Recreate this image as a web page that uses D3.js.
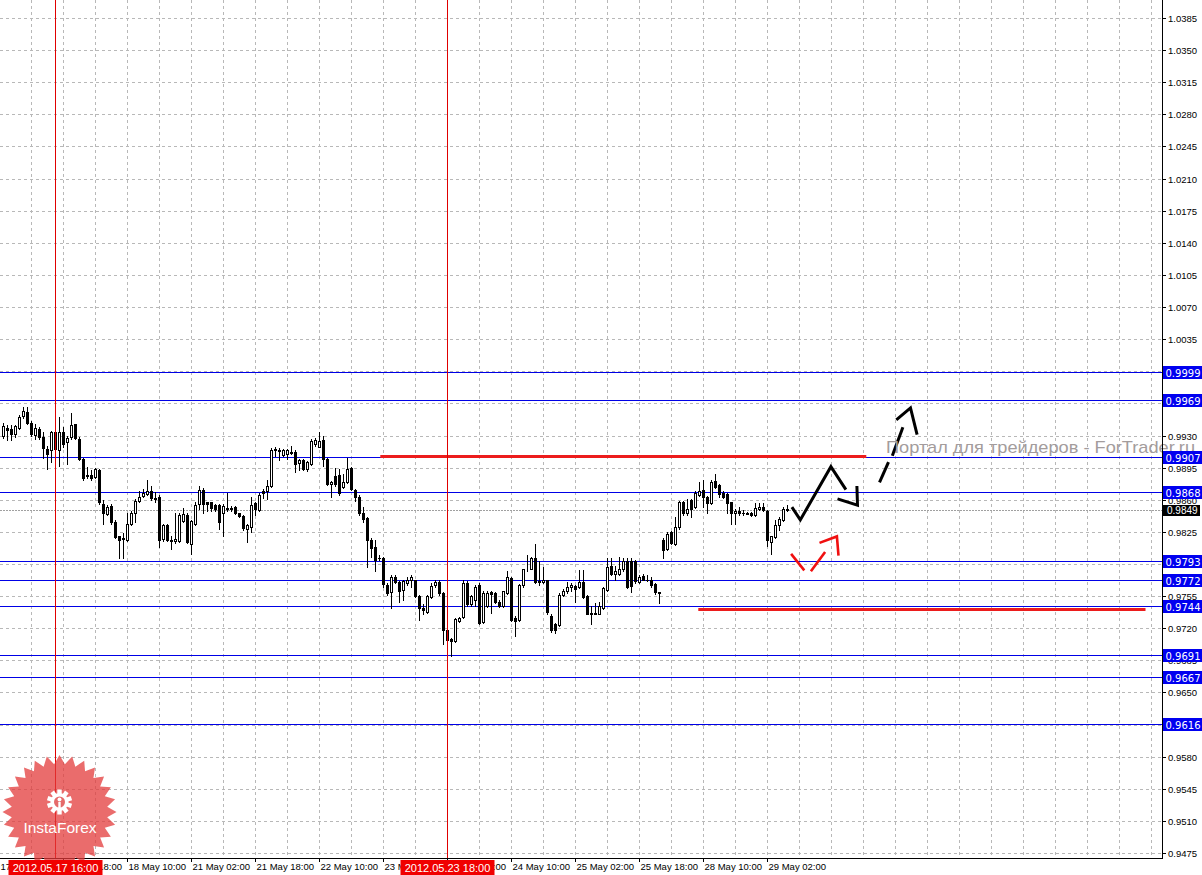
<!DOCTYPE html>
<html><head><meta charset="utf-8">
<script src="https://cdn.jsdelivr.net/npm/d3@7"></script>
<style>html,body{margin:0;padding:0;background:#fff;overflow:hidden}</style>
</head><body><svg id="c" width="1202" height="875"></svg>
<script>
// ---- data (H1 candles, bar index 1..197) ----
const open=[0.9929,0.9938,0.9937,0.9932,0.9938,0.9951,0.9956,0.9944,0.9931,0.9937,
0.9928,0.9915,0.9914,0.9915,0.9914,0.9934,0.9923,0.9928,0.9942,0.9926,
0.9904,0.9887,0.9887,0.9885,0.9892,0.9855,0.9844,0.9853,0.9836,0.9820,
0.9818,0.9816,0.9834,0.9845,0.9859,0.9864,0.9866,0.9869,0.9862,0.9863,
0.9817,0.9832,0.9816,0.9815,0.9815,0.9837,0.9843,0.9812,0.9834,0.9855,
0.9871,0.9857,0.9857,0.9854,0.9854,0.9845,0.9851,0.9850,0.9852,0.9845,
0.9842,0.9828,0.9830,0.9856,0.9849,0.9869,0.9869,0.9875,0.9914,0.9914,
0.9909,0.9910,0.9912,0.9912,0.9900,0.9903,0.9894,0.9899,0.9921,0.9918,
0.9925,0.9904,0.9877,0.9886,0.9887,0.9874,0.9879,0.9895,0.9871,0.9863,
0.9845,0.9840,0.9816,0.9809,0.9797,0.9796,0.9767,0.9759,0.9776,0.9770,
0.9762,0.9769,0.9773,0.9772,0.9755,0.9742,0.9738,0.9754,0.9767,0.9770,
0.9758,0.9718,0.9708,0.9706,0.9728,0.9732,0.9769,0.9746,0.9751,0.9767,
0.9727,0.9744,0.9759,0.9758,0.9749,0.9744,0.9758,0.9775,0.9731,0.9729,
0.9767,0.9784,0.9785,0.9796,0.9770,0.9770,0.9772,0.9733,0.9725,0.9723,
0.9756,0.9760,0.9765,0.9766,0.9765,0.9770,0.9755,0.9737,0.9736,0.9736,
0.9742,0.9762,0.9788,0.9779,0.9779,0.9784,0.9793,0.9793,0.9793,0.9770,
0.9777,0.9773,0.9773,0.9768,0.9759,0.9816,0.9806,0.9825,0.9812,0.9830,
0.9858,0.9845,0.9860,0.9852,0.9865,0.9871,0.9863,0.9856,0.9880,0.9876,
0.9867,0.9866,0.9858,0.9845,0.9848,0.9846,0.9845,0.9846,0.9843,0.9850,
0.9852,0.9848,0.9814,0.9819,0.9832,0.9838,0.9850];
const high=[0.9944,0.9941,0.9941,0.9941,0.9952,0.9961,0.9961,0.9946,0.9942,0.9939,
0.9934,0.9919,0.9935,0.9935,0.9950,0.9939,0.9929,0.9954,0.9943,0.9928,
0.9906,0.9896,0.9892,0.9895,0.9893,0.9860,0.9854,0.9855,0.9838,0.9821,
0.9824,0.9845,0.9848,0.9861,0.9870,0.9872,0.9882,0.9875,0.9868,0.9865,
0.9834,0.9834,0.9821,0.9845,0.9845,0.9851,0.9845,0.9838,0.9857,0.9875,
0.9873,0.9858,0.9858,0.9855,0.9855,0.9855,0.9867,0.9853,0.9853,0.9846,
0.9843,0.9834,0.9863,0.9858,0.9867,0.9872,0.9881,0.9916,0.9917,0.9916,
0.9915,0.9915,0.9919,0.9914,0.9904,0.9904,0.9902,0.9926,0.9927,0.9934,
0.9930,0.9906,0.9880,0.9895,0.9894,0.9888,0.9906,0.9896,0.9872,0.9865,
0.9852,0.9841,0.9818,0.9816,0.9800,0.9798,0.9769,0.9778,0.9778,0.9771,
0.9773,0.9776,0.9778,0.9773,0.9756,0.9746,0.9756,0.9769,0.9772,0.9773,
0.9759,0.9720,0.9709,0.9731,0.9732,0.9772,0.9771,0.9756,0.9767,0.9769,
0.9760,0.9760,0.9760,0.9759,0.9751,0.9761,0.9782,0.9776,0.9733,0.9768,
0.9785,0.9800,0.9798,0.9812,0.9793,0.9787,0.9773,0.9735,0.9726,0.9758,
0.9763,0.9770,0.9769,0.9767,0.9783,0.9783,0.9756,0.9744,0.9747,0.9748,
0.9765,0.9797,0.9797,0.9788,0.9798,0.9797,0.9797,0.9797,0.9794,0.9778,
0.9779,0.9778,0.9776,0.9769,0.9759,0.9818,0.9825,0.9826,0.9841,0.9859,
0.9859,0.9861,0.9861,0.9869,0.9879,0.9881,0.9864,0.9881,0.9888,0.9877,
0.9869,0.9867,0.9858,0.9850,0.9852,0.9849,0.9847,0.9847,0.9856,0.9856,
0.9856,0.9849,0.9821,0.9838,0.9841,0.9852,0.9854];
const low=[0.9927,0.9925,0.9925,0.9928,0.9937,0.9949,0.9943,0.9930,0.9926,0.9926,
0.9906,0.9894,0.9901,0.9897,0.9897,0.9917,0.9899,0.9926,0.9926,0.9903,
0.9882,0.9884,0.9882,0.9884,0.9855,0.9834,0.9843,0.9834,0.9818,0.9796,
0.9796,0.9815,0.9833,0.9836,0.9857,0.9863,0.9865,0.9860,0.9857,0.9808,
0.9815,0.9815,0.9806,0.9813,0.9814,0.9836,0.9813,0.9801,0.9833,0.9850,
0.9846,0.9848,0.9848,0.9848,0.9828,0.9820,0.9848,0.9848,0.9844,0.9841,
0.9827,0.9814,0.9825,0.9843,0.9848,0.9862,0.9861,0.9874,0.9908,0.9903,
0.9908,0.9904,0.9910,0.9890,0.9892,0.9892,0.9891,0.9898,0.9919,0.9917,
0.9897,0.9876,0.9863,0.9875,0.9865,0.9873,0.9878,0.9871,0.9859,0.9843,
0.9836,0.9787,0.9798,0.9782,0.9794,0.9765,0.9756,0.9742,0.9769,0.9748,
0.9751,0.9767,0.9765,0.9754,0.9729,0.9736,0.9737,0.9753,0.9765,0.9756,
0.9703,0.9706,0.9690,0.9705,0.9727,0.9731,0.9744,0.9744,0.9744,0.9725,
0.9726,0.9743,0.9737,0.9747,0.9743,0.9743,0.9757,0.9728,0.9711,0.9728,
0.9765,0.9782,0.9784,0.9769,0.9767,0.9769,0.9736,0.9716,0.9715,0.9722,
0.9755,0.9758,0.9760,0.9749,0.9764,0.9753,0.9735,0.9725,0.9735,0.9735,
0.9741,0.9761,0.9778,0.9773,0.9778,0.9782,0.9764,0.9759,0.9769,0.9769,
0.9772,0.9771,0.9765,0.9757,0.9747,0.9796,0.9805,0.9812,0.9811,0.9828,
0.9843,0.9843,0.9841,0.9851,0.9864,0.9852,0.9846,0.9855,0.9873,0.9863,
0.9862,0.9845,0.9834,0.9834,0.9843,0.9843,0.9844,0.9842,0.9842,0.9849,
0.9848,0.9810,0.9801,0.9818,0.9827,0.9837,0.9848];
const close=[0.9940,0.9936,0.9932,0.9940,0.9950,0.9957,0.9944,0.9932,0.9938,0.9928,
0.9916,0.9910,0.9934,0.9934,0.9934,0.9921,0.9927,0.9941,0.9927,0.9904,
0.9884,0.9886,0.9884,0.9893,0.9857,0.9845,0.9852,0.9836,0.9819,0.9816,
0.9817,0.9834,0.9845,0.9859,0.9863,0.9867,0.9870,0.9862,0.9861,0.9816,
0.9833,0.9816,0.9815,0.9817,0.9843,0.9844,0.9814,0.9837,0.9854,0.9871,
0.9855,0.9855,0.9851,0.9850,0.9836,0.9853,0.9850,0.9851,0.9845,0.9842,
0.9829,0.9832,0.9854,0.9850,0.9865,0.9867,0.9875,0.9914,0.9915,0.9913,
0.9914,0.9914,0.9911,0.9899,0.9903,0.9893,0.9901,0.9924,0.9925,0.9924,
0.9904,0.9877,0.9879,0.9877,0.9867,0.9879,0.9894,0.9872,0.9863,0.9845,
0.9839,0.9816,0.9807,0.9794,0.9796,0.9768,0.9758,0.9776,0.9770,0.9761,
0.9771,0.9773,0.9776,0.9755,0.9742,0.9740,0.9755,0.9766,0.9770,0.9758,
0.9718,0.9707,0.9706,0.9730,0.9731,0.9769,0.9746,0.9755,0.9765,0.9726,
0.9758,0.9758,0.9757,0.9748,0.9744,0.9760,0.9776,0.9729,0.9728,0.9767,
0.9784,0.9785,0.9796,0.9770,0.9771,0.9772,0.9738,0.9718,0.9718,0.9756,
0.9761,0.9765,0.9767,0.9763,0.9770,0.9754,0.9736,0.9735,0.9737,0.9744,
0.9764,0.9787,0.9779,0.9782,0.9784,0.9793,0.9765,0.9766,0.9771,0.9776,
0.9773,0.9772,0.9767,0.9759,0.9758,0.9805,0.9823,0.9813,0.9830,0.9858,
0.9845,0.9850,0.9850,0.9867,0.9869,0.9863,0.9856,0.9879,0.9874,0.9866,
0.9863,0.9856,0.9845,0.9848,0.9845,0.9845,0.9844,0.9843,0.9851,0.9852,
0.9849,0.9816,0.9820,0.9833,0.9839,0.9850,0.9849];

const priceTicks=["0.9475","0.9510","0.9545","0.9580","0.9615","0.9650","0.9685","0.9720","0.9755",
"0.9790","0.9825","0.9860","0.9895","0.9930","0.9965","1.0000","1.0035","1.0070","1.0105",
"1.0140","1.0175","1.0210","1.0245","1.0280","1.0315","1.0350","1.0385"];
const timeLabels=["17 May 02:00","17 May 18:00","18 May 10:00","21 May 02:00","21 May 18:00",
"22 May 10:00","23 May 02:00","23 May 18:00","24 May 10:00","25 May 02:00","25 May 18:00",
"28 May 10:00","29 May 02:00"];
const timeLabelBars=[0,16,32,48,64,80,96,112,128,144,160,176,192];
const levels=[0.9999,0.9969,0.9907,0.9868,0.9793,0.9772,0.9744,0.9691,0.9667,0.9616];
const bidPrice=0.9849;
const markerBars=[14,112];
const markerLabels=["2012.05.17 16:00","2012.05.23 18:00"];
const redLevelPrices=[0.9908,0.9741];
const redLevelFrom=[95.2,174.7];
const redLevelTo=[216.7,286.5];
// hand-drawn forecast strokes: [bar, price]
const blackStrokes=[
 [[198.1,0.9852],[200.2,0.9838],[207.85,0.9896],[211.6,0.9871]],
 [[209.5,0.9861],[214.5,0.9854],[214.35,0.9875]],
 [[220.0,0.9879],[222.25,0.9901]],
 [[223.2,0.9908],[225.85,0.9939]],
 [[224.2,0.9947],[227.75,0.9960],[229.4,0.9931]]
];
const redStrokes=[
 [[197.9,0.9801],[201.2,0.9783]],
 [[202.85,0.9782],[206.4,0.9803]],
 [[205.0,0.9813],[209.35,0.9820],[209.75,0.9799]]
];
const watermark="Портал для трейдеров - ForTrader.ru";

// ---- layout ----
const W=1202,H=875,plotR=1162,plotB=858;
const svg=d3.select("#c");
const x=d3.scaleLinear().domain([1,2]).range([3.5,7.5]);
const y=d3.scaleLinear().domain([0.9475,1.0385]).range([853,18]);
const ry=v=>Math.round(y(v));
const FONT="'Liberation Sans', Arial, sans-serif";
const GRID="#b8b8b8";

svg.append("rect").attr("width",W).attr("height",H).attr("fill","#fff");

// grid
const gGrid=svg.append("g").attr("stroke",GRID).attr("stroke-dasharray","3,3").attr("shape-rendering","crispEdges");
gGrid.selectAll("line.h").data(priceTicks).join("line")
 .attr("x1",0).attr("x2",plotR).attr("y1",d=>ry(+d)+0.5).attr("y2",d=>ry(+d)+0.5);
const vBars=d3.range(8,300,8).filter(b=>x(b)<plotR);
gGrid.selectAll("line.v").data(vBars).join("line")
 .attr("y1",0).attr("y2",plotB).attr("x1",d=>x(d)).attr("x2",d=>x(d));

// bid line
svg.append("line").attr("x1",0).attr("x2",plotR).attr("y1",ry(bidPrice)+0.5).attr("y2",ry(bidPrice)+0.5)
 .attr("stroke","#a0a0a0").attr("stroke-dasharray","2,1").attr("shape-rendering","crispEdges");

// blue levels
svg.append("g").attr("stroke","#0000e6").attr("shape-rendering","crispEdges")
 .selectAll("line").data(levels).join("line")
 .attr("x1",0).attr("x2",plotR).attr("y1",d=>ry(d)+0.5).attr("y2",d=>ry(d)+0.5);

// red thick levels
svg.append("g").attr("stroke","#ec1c1c").attr("stroke-width",3)
 .selectAll("line").data(redLevelPrices).join("line")
 .attr("x1",(d,i)=>x(redLevelFrom[i])).attr("x2",(d,i)=>x(redLevelTo[i]))
 .attr("y1",d=>ry(d)+0.5).attr("y2",d=>ry(d)+0.5);

// candles
const idx=d3.range(open.length);
const gC=svg.append("g").attr("shape-rendering","crispEdges");
gC.selectAll("line").data(idx).join("line")
 .attr("x1",i=>x(i+1)).attr("x2",i=>x(i+1))
 .attr("y1",i=>ry(Math.max(high[i],open[i],close[i])))
 .attr("y2",i=>ry(Math.min(low[i],open[i],close[i]))+1)
 .attr("stroke","#000");
gC.selectAll("rect").data(idx).join("rect")
 .each(function(i){
   const top=ry(Math.max(open[i],close[i])), bot=ry(Math.min(open[i],close[i]));
   const r=d3.select(this);
   if(close[i]>=open[i]){
     r.attr("x",x(i+1)-1).attr("y",top+0.5).attr("width",2).attr("height",Math.max(bot-top,0))
      .attr("fill","#fff").attr("stroke","#000");
   } else {
     r.attr("x",x(i+1)-1.5).attr("y",top).attr("width",3).attr("height",bot-top+1)
      .attr("fill","#000");
   }
 });

// hand-drawn strokes
const ln=d3.line().x(d=>x(d[0])).y(d=>y(d[1]));
svg.append("g").selectAll("path").data(blackStrokes).join("path")
 .attr("d",ln).attr("fill","none").attr("stroke","#000").attr("stroke-width",3)
 .attr("stroke-linejoin","miter");
svg.append("g").selectAll("path").data(redStrokes).join("path")
 .attr("d",ln).attr("fill","none").attr("stroke","#f01010").attr("stroke-width",2.6);

// vertical red markers
svg.append("g").attr("stroke","#e00000").attr("shape-rendering","crispEdges")
 .selectAll("line").data(markerBars).join("line")
 .attr("x1",d=>x(d)).attr("x2",d=>x(d)).attr("y1",0).attr("y2",plotB);

// watermark
svg.append("text").attr("x",886).attr("y",453).text(watermark)
 .attr("font-family",FONT).attr("font-size",17).attr("fill","#a39c9c")
 .attr("textLength",309).attr("lengthAdjust","spacingAndGlyphs");

// axes
const gA=svg.append("g").attr("shape-rendering","crispEdges").attr("stroke","#000");
gA.append("line").attr("x1",plotR+0.5).attr("x2",plotR+0.5).attr("y1",0).attr("y2",plotB+1);
gA.append("line").attr("x1",0).attr("x2",plotR+1).attr("y1",plotB+0.5).attr("y2",plotB+0.5);
gA.selectAll("line.t").data(priceTicks).join("line")
 .attr("x1",plotR).attr("x2",plotR+4).attr("y1",d=>ry(+d)+0.5).attr("y2",d=>ry(+d)+0.5);
gA.selectAll("line.b").data(timeLabelBars).join("line")
 .attr("x1",d=>x(d)).attr("x2",d=>x(d)).attr("y1",plotB).attr("y2",plotB+4);

// price labels: those fully covered by a level box in the reference are not drawn
const visibleTicks=priceTicks.filter(t=>levels.every(l=>Math.abs(y(+t)-y(l))>=5));
svg.append("g").selectAll("text").data(visibleTicks).join("text")
 .attr("x",plotR+6).attr("y",d=>ry(+d)+4).text(d=>d)
 .attr("font-family",FONT).attr("font-size",9.5).attr("fill","#000");
svg.append("g").selectAll("text").data(timeLabels).join("text")
 .attr("x",(d,i)=>x(timeLabelBars[i])+1).attr("y",870).text(d=>d)
 .attr("font-family",FONT).attr("font-size",9.5).attr("fill","#000");

// logo (InstaForex badge)
const logo=svg.append("g");
const cx0=59.5, cy0=812, nSp=28;
const starPts=d3.range(nSp*2).map(k=>{const a=Math.PI*k/nSp - Math.PI/2; const r=k%2?48:57; return [cx0+r*Math.cos(a), cy0+r*Math.sin(a)];});
logo.append("polygon").attr("points",starPts.map(p=>p.join(",")).join(" "))
 .attr("fill","#e23838").attr("opacity",0.74);
const gcx=59.5, gcy=802;
const teeth=d3.range(10).map(k=>k*36);
logo.append("g").selectAll("rect").data(teeth).join("rect")
 .attr("x",gcx-2.2).attr("y",gcy-12.5).attr("width",4.4).attr("height",6)
 .attr("fill","#fff").attr("transform",d=>`rotate(${d},${gcx},${gcy})`);
logo.append("circle").attr("cx",gcx).attr("cy",gcy).attr("r",9).attr("fill","#fff");
logo.append("circle").attr("cx",gcx).attr("cy",gcy).attr("r",5.5).attr("fill","#e56a6a");
logo.append("circle").attr("cx",gcx).attr("cy",gcy-2.5).attr("r",2).attr("fill","#fff");
logo.append("rect").attr("x",gcx-1.2).attr("y",gcy).attr("width",2.4).attr("height",8).attr("fill","#fff");
logo.append("text").attr("x",cx0+0.5).attr("y",833).attr("text-anchor","middle").text("InstaForex")
 .attr("font-family",FONT).attr("font-size",15.5).attr("fill","#fff");

// level labels (blue)
const gL=svg.append("g");
gL.selectAll("rect").data(levels).join("rect")
 .attr("x",plotR+1).attr("y",d=>ry(d)-6).attr("width",W-plotR-1).attr("height",13).attr("fill","#0000f0");
gL.selectAll("text").data(levels).join("text")
 .attr("x",plotR+3.5).attr("y",d=>ry(d)+4.5).text(d=>d.toFixed(4))
 .attr("font-family","'DejaVu Sans', sans-serif").attr("font-size",10).attr("fill","#fff");

// bid label
svg.append("rect").attr("x",plotR+1).attr("y",ry(bidPrice)-5).attr("width",37).attr("height",11).attr("fill","#000");
svg.append("text").attr("x",plotR+5).attr("y",ry(bidPrice)+4).text(bidPrice.toFixed(4))
 .attr("font-family",FONT).attr("font-size",10).attr("fill","#fff");

// red date labels at bottom
const gM=svg.append("g");
gM.selectAll("rect").data(markerBars).join("rect")
 .attr("x",d=>x(d)-47).attr("y",860).attr("width",94).attr("height",15).attr("fill","#f00000");
gM.selectAll("text").data(markerLabels).join("text")
 .attr("x",(d,i)=>x(markerBars[i])).attr("y",872).attr("text-anchor","middle").text(d=>d)
 .attr("font-family",FONT).attr("font-size",11).attr("fill","#fff");
</script></body></html>
